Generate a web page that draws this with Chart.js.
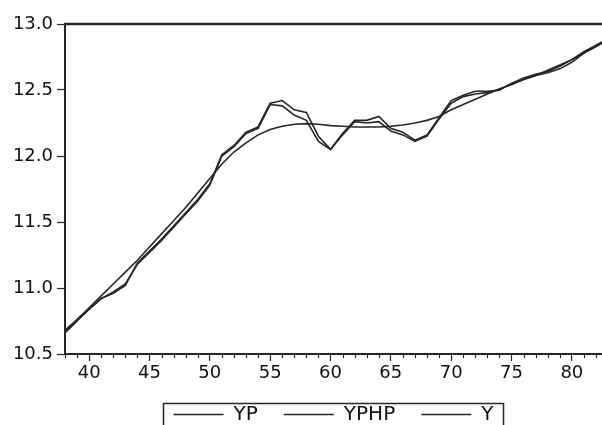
<!DOCTYPE html>
<html>
<head>
<meta charset="utf-8">
<script src="https://cdn.jsdelivr.net/npm/chart.js@4"></script>
<style>
  html, body { margin: 0; padding: 0; background: #ffffff; }
  #wrap { width: 602px; height: 425px; position: relative; }
</style>
</head>
<body>
<div id="wrap"><canvas id="c"></canvas></div>
<script>
const years = [38,39,40,41,42,43,44,45,46,47,48,49,50,51,52,53,54,55,56,57,58,59,60,61,62,63,64,65,66,67,68,69,70,71,72,73,74,75,76,77,78,79,80,81,82,83];
const seriesYP = [10.66,10.75,10.84,10.92,10.97,11.03,11.18,11.27,11.36,11.46,11.56,11.66,11.78,12.00,12.07,12.17,12.21,12.39,12.38,12.31,12.27,12.11,12.05,12.16,12.26,12.25,12.26,12.19,12.16,12.11,12.15,12.28,12.40,12.45,12.47,12.48,12.50,12.55,12.58,12.61,12.63,12.66,12.71,12.78,12.83,12.88];
const seriesYPHP = [10.68,10.76,10.85,10.94,11.03,11.12,11.21,11.31,11.41,11.51,11.61,11.72,11.83,11.94,12.03,12.10,12.16,12.20,12.225,12.24,12.245,12.24,12.23,12.225,12.22,12.22,12.22,12.225,12.235,12.25,12.27,12.30,12.35,12.39,12.43,12.47,12.51,12.54,12.58,12.61,12.65,12.69,12.73,12.78,12.83,12.88];
const seriesY = [10.67,10.76,10.84,10.92,10.96,11.02,11.19,11.28,11.37,11.47,11.57,11.67,11.79,12.01,12.08,12.18,12.22,12.40,12.42,12.35,12.33,12.15,12.05,12.17,12.27,12.27,12.30,12.21,12.18,12.12,12.16,12.29,12.42,12.46,12.49,12.49,12.50,12.55,12.59,12.62,12.64,12.68,12.73,12.79,12.84,12.89];
const seriesNames = ['YP', 'YPHP', 'Y'];
const yTicks = [10.5, 11.0, 11.5, 12.0, 12.5, 13.0];

const INK = '#262626';
const toPts = arr => years.map((yr, i) => ({ x: yr, y: arr[i] }));

const framePlugin = {
  id: 'framePlugin',
  afterDraw(chart) {
    const { ctx, chartArea: a } = chart;
    const x = chart.scales.x;
    ctx.save();
    ctx.strokeStyle = INK;
    ctx.lineWidth = 2.5;
    ctx.beginPath();
    ctx.moveTo(a.left - 1, a.top);
    ctx.lineTo(a.right, a.top);
    ctx.stroke();
    ctx.lineWidth = 1.2;
    for (let v = Math.ceil(x.min); v <= x.max; v++) {
      if (v % 5 === 0) continue;
      const px = Math.round(x.getPixelForValue(v)) + 0.5;
      ctx.beginPath();
      ctx.moveTo(px, a.bottom);
      ctx.lineTo(px, a.bottom + 4);
      ctx.stroke();
    }
    const hb = chart.legend && chart.legend.legendHitBoxes;
    if (hb && hb.length) {
      const first = hb[0], last = hb[hb.length - 1];
      const l = first.left - 11;
      const r = last.left + last.width + 9;
      const t = first.top + first.height / 2 - 12;
      ctx.lineWidth = 1.5;
      ctx.strokeRect(Math.round(l) + 0.5, Math.round(t) + 0.5, Math.round(r - l), chart.height + 10 - t);
    }
    ctx.restore();
  }
};

const mk = (label, arr) => ({
  label,
  data: toPts(arr),
  borderColor: INK,
  backgroundColor: INK,
  borderWidth: 1.6,
  pointRadius: 0,
  tension: 0,
  fill: false
});

new Chart(document.getElementById('c'), {
  type: 'line',
  data: {
    datasets: [mk(seriesNames[0], seriesYP), mk(seriesNames[1], seriesYPHP), mk(seriesNames[2], seriesY)]
  },
  options: {
    responsive: true,
    maintainAspectRatio: false,
    animation: false,
    layout: { padding: { top: 24, right: 0, left: 0, bottom: -9.5 } },
    plugins: {
      tooltip: { enabled: false },
      legend: {
        position: 'bottom',
        fullSize: false,
        labels: {
          color: '#111',
          font: { family: 'DejaVu Sans', size: 20 },
          boxWidth: 50,
          boxHeight: 1.6,
          padding: 26,
          generateLabels(chart) {
            const items = Chart.defaults.plugins.legend.labels.generateLabels(chart);
            items.forEach(it => { it.lineWidth = 0; it.fillStyle = INK; });
            return items;
          }
        }
      }
    },
    scales: {
      x: {
        type: 'linear',
        min: 38,
        max: 82.5,
        afterFit(scale) { scale.height = 24.5; },
        border: { display: true, color: INK, width: 2 },
        grid: { display: true, drawOnChartArea: false, tickLength: 7, tickColor: INK, tickWidth: 1.2 },
        ticks: {
          stepSize: 5,
          includeBounds: false,
          autoSkip: false,
          maxRotation: 0,
          padding: 2,
          color: '#111',
          font: { family: 'DejaVu Sans', size: 18 },
          callback: v => String(v)
        }
      },
      y: {
        min: yTicks[0],
        max: yTicks[yTicks.length - 1],
        afterFit(scale) { scale.width = 65; },
        afterBuildTicks(scale) { scale.ticks = yTicks.map(v => ({ value: v })); },
        border: { display: true, color: INK, width: 2 },
        grid: { display: true, drawOnChartArea: false, tickLength: 8, tickColor: INK, tickWidth: 1.2 },
        ticks: {
          padding: 4,
          color: '#111',
          font: { family: 'DejaVu Sans', size: 18 },
          callback: v => Number(v).toFixed(1)
        }
      }
    }
  },
  plugins: [framePlugin]
});
</script>
</body>
</html>
